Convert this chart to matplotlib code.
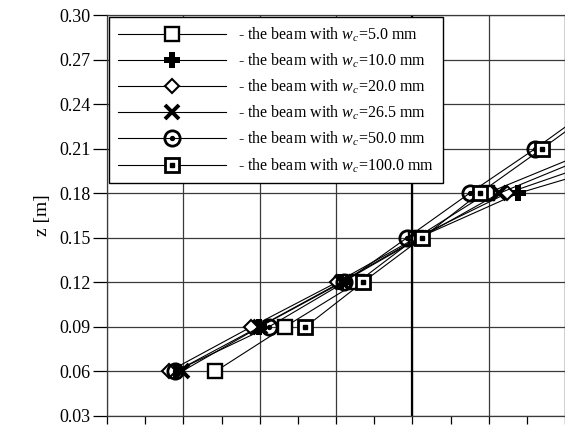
import numpy as np
import matplotlib.pyplot as plt
from matplotlib.ticker import MultipleLocator

plt.rcParams['font.family'] = 'Liberation Serif'
plt.rcParams['mathtext.fontset'] = 'custom'
plt.rcParams['mathtext.rm'] = 'Liberation Serif'
plt.rcParams['mathtext.it'] = 'Liberation Serif:italic'

# heights through the beam section
z = [0.06, 0.09, 0.12, 0.15, 0.18, 0.21, 0.24]

# horizontal values (one grid step = 1 unit, thick line = 0)
x_w5 = [-2.58, -1.67, -0.72, 0.05, 0.98, 2.40]
x_w10 = [-3.10, -2.01, -0.94, 0.08, 1.39, 3.35]
x_w20 = [-3.19, -2.11, -0.99, 0.05, 1.24, 2.93]
x_w265 = [-3.02, -2.00, -0.92, 0.10, 1.14, 2.56]
x_w50 = [-3.11, -1.88, -0.89, -0.07, 0.75, 1.61, 2.42]
x_w100 = [-1.40, -0.65, 0.13, 0.88, 1.70, 2.50]
z_w100 = z[1:]

labels = ['5.0', '10.0', '20.0', '26.5', '50.0', '100.0']

fig = plt.figure(figsize=(5.65, 4.25), dpi=100)
ax = fig.add_axes([107 / 565, 9 / 425, 458 / 565, 401 / 425])

lw = 0.8
mk = dict(color='black', lw=lw, mfc='white', mec='black')

h1, = ax.plot(x_w5, z[:len(x_w5)], marker='s', ms=10.5, mew=1.7, **mk)
h2, = ax.plot(x_w10, z[:len(x_w10)], marker='P', ms=11, mew=0, mfc='black', color='black', lw=lw)
h3, = ax.plot(x_w20, z[:len(x_w20)], marker='D', ms=7, mew=1.5, **mk)
h4, = ax.plot(x_w265, z[:len(x_w265)], marker='x', ms=10, mew=2.8, color='black', lw=lw)
h5, = ax.plot(x_w50, z[:len(x_w50)], marker='o', ms=11, mew=2.0, color='black', lw=lw, mfc='none', mec='black')
h5d, = ax.plot(x_w50, z[:len(x_w50)], ls='none', marker='o', ms=2.8, color='black')
h6, = ax.plot(x_w100, z_w100, marker='s', ms=10.5, mew=2.0, **mk)
h6d, = ax.plot(x_w100, z_w100, ls='none', marker='s', ms=2.8, color='black')

ax.set_xlim(-4, 2)
ax.set_ylim(0.03, 0.30)
ax.yaxis.set_major_locator(MultipleLocator(0.03))
ax.xaxis.set_major_locator(MultipleLocator(1))
ax.xaxis.set_minor_locator(MultipleLocator(0.5))
ax.yaxis.set_major_formatter(plt.FormatStrFormatter('%.2f'))

ax.grid(True, which='major', color='#3a3a3a', lw=0.9)
ax.axvline(0, color='black', lw=1.6)
ax.set_axisbelow(True)

ax.tick_params(axis='y', direction='out', length=10, width=0.9, labelsize=13, pad=2)
ax.tick_params(axis='x', which='both', direction='out', length=6, width=0.9, labelbottom=False)
for s in ax.spines.values():
    s.set_color('#3a3a3a')
    s.set_linewidth(0.9)

ax.set_ylabel('z [m]', fontsize=14, labelpad=6)

handles = [h1, h2, h3, h4, (h5, h5d), (h6, h6d)]
texts = ['- the beam with $w_c$=' + v + ' mm' for v in labels]
leg = ax.legend(handles, texts, loc='upper left', bbox_to_anchor=(0.004, 0.995),
                borderaxespad=0, fontsize=11.5, handlelength=6.8, handletextpad=0.75,
                labelspacing=0.48, borderpad=0.55, fancybox=False, framealpha=1,
                edgecolor='black', numpoints=1)
leg.get_frame().set_linewidth(1.0)

fig.savefig('out.png', dpi=100)
